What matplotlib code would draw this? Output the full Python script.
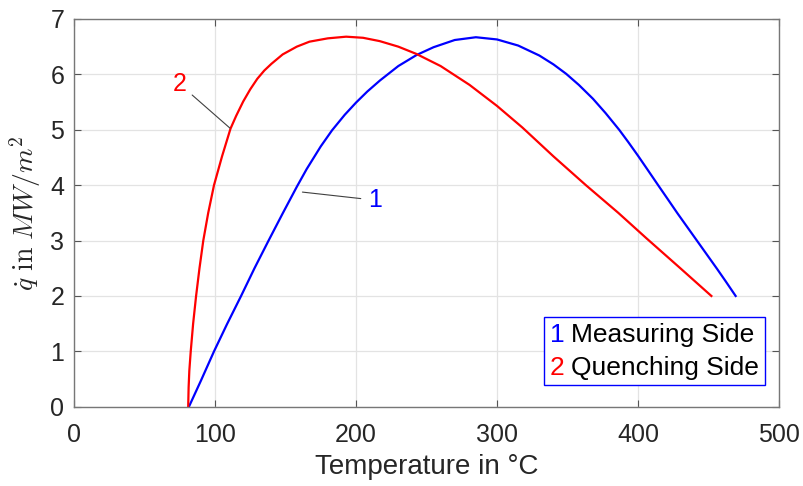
import matplotlib
matplotlib.use('Agg')
import matplotlib.pyplot as plt
from matplotlib.offsetbox import TextArea, HPacker, VPacker, AnchoredOffsetbox

plt.rcParams['font.family'] = ['Liberation Sans', 'DejaVu Sans']
plt.rcParams['mathtext.fontset'] = 'cm'

# Kurve 1: Messseite
t_mess = [81.5, 90, 99.3, 108.5, 118.5, 128, 138, 148, 158, 165, 175, 183, 192, 200, 208,
          217, 230, 243, 255, 270, 285, 300, 315, 330, 340, 349, 358, 368, 377, 386.6,
          393, 400, 407, 414.5, 421, 428, 435, 442, 449, 456, 462, 469.2]
q_mess = [0, 0.47, 1, 1.49, 2, 2.5, 3, 3.49, 3.97, 4.29, 4.7, 4.99, 5.27, 5.49, 5.69,
          5.89, 6.15, 6.35, 6.49, 6.62, 6.67, 6.63, 6.52, 6.34, 6.18, 6.01, 5.81, 5.56, 5.3, 5.0,
          4.78, 4.53, 4.27, 3.99, 3.75, 3.49, 3.24, 2.99, 2.74, 2.49, 2.27, 2.0]

# Kurve 2: Abschreckseite
t_abs = [81, 81.3, 81.8, 82.8, 84.5, 86.6, 89, 91.7, 95.2, 99.3, 105, 111, 115, 120, 125,
         130, 135, 140, 148, 158, 167, 180, 193, 205, 216.8, 230, 242.7, 260, 280.5, 300,
         318, 340, 363, 386, 406, 430, 452]
q_abs = [0, 0.35, 0.65, 1, 1.5, 2, 2.5, 3, 3.5, 4, 4.52, 5.02, 5.25, 5.51, 5.73,
         5.92, 6.07, 6.19, 6.36, 6.5, 6.59, 6.65, 6.68, 6.66, 6.6, 6.5, 6.37, 6.15, 5.81, 5.43,
         5.04, 4.52, 4.0, 3.5, 3.04, 2.5, 2.0]

fig = plt.figure(figsize=(8.04, 4.86), dpi=100)
ax = fig.add_axes([0.092, 0.163, 0.877, 0.798])

ax.plot(t_mess, q_mess, color='#0000ff', lw=1.6, solid_joinstyle='round')
ax.plot(t_abs, q_abs, color='#ff0000', lw=1.6, solid_joinstyle='round')

ax.set_xlim(0, 500)
ax.set_ylim(0, 7)
ax.set_xticks(range(0, 501, 100))
ax.set_yticks(range(0, 8))
ax.grid(True, color='#e3e3e3', lw=0.9)
ax.set_axisbelow(True)
ax.tick_params(direction='in', top=True, right=True, length=5, width=0.8,
               color='#555555', labelsize=18, labelcolor='#262626')
ax.tick_params(axis='x', pad=12)
ax.tick_params(axis='y', pad=7)
for s in ax.spines.values():
    s.set_color('#777777')
    s.set_linewidth(1.0)

ax.set_xlabel('Temperature in °C', fontsize=20, color='#262626', labelpad=5)
ax.set_ylabel(r'$\dot{q}\ \mathrm{in}\ MW/m^2$', fontsize=20, color='#262626', labelpad=5)

# Beschriftungen der Kurven
ax.annotate('2', xy=(110.6, 5.03), xytext=(74.7, 5.83), color='#ff0000', fontsize=18,
            ha='center', va='center',
            arrowprops=dict(arrowstyle='-', color='#404040', lw=0.8, shrinkA=3, shrinkB=0))
ax.annotate('1', xy=(162, 3.875), xytext=(213.2, 3.73), color='#0000ff', fontsize=18,
            ha='center', va='center',
            arrowprops=dict(arrowstyle='-', color='#404040', lw=0.8, shrinkA=3, shrinkB=0))

# Legende
rows = []
for num, col, txt in [('1', '#0000ff', 'Measuring Side'), ('2', '#ff0000', 'Quenching Side')]:
    rows.append(HPacker(children=[TextArea(num, textprops=dict(color=col, fontsize=19)),
                                  TextArea(txt, textprops=dict(color='black', fontsize=19))],
                        sep=5, align='baseline', pad=0))
box = VPacker(children=rows, sep=6, align='left', pad=0)
leg = AnchoredOffsetbox(loc='lower right', child=box, pad=0.42, borderpad=0, frameon=True,
                        bbox_to_anchor=(0.980, 0.055), bbox_transform=ax.transAxes)
leg.patch.set_edgecolor('#0000ff')
leg.patch.set_linewidth(1.0)
leg.patch.set_boxstyle('square', pad=0)
ax.add_artist(leg)

fig.savefig('out.png', dpi=100)
